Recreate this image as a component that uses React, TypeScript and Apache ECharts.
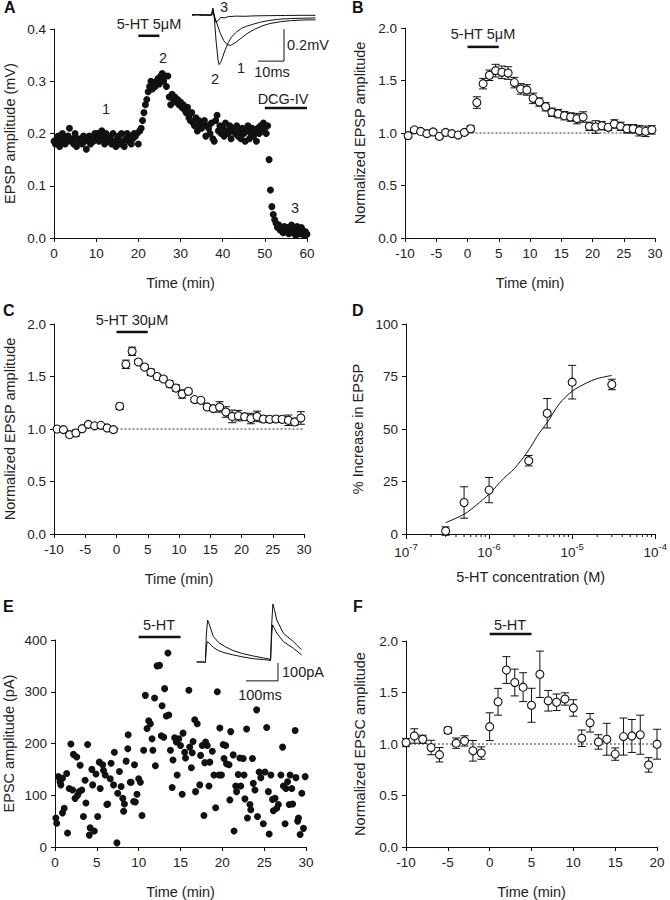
import React, { useEffect, useRef } from 'react';
import * as echarts from 'echarts';

const FONT = '"Liberation Sans", Arial, Helvetica, sans-serif';
const INK = '#111';
const TEXT = '#222';

// ---------- Panel A ----------
const A_STEP_MIN = 1 / 3;
const A_VALUES = [
  0.185, 0.18, 0.19, 0.195, 0.175, 0.185, 0.2, 0.19, 0.18, 0.185,
  0.195, 0.21, 0.185, 0.19, 0.18, 0.2, 0.175, 0.19, 0.185, 0.19,
  0.18, 0.195, 0.185, 0.17, 0.19, 0.195, 0.18, 0.19, 0.185, 0.2,
  0.19, 0.2, 0.185, 0.195, 0.205, 0.19, 0.18, 0.2, 0.195, 0.185,
  0.19, 0.18, 0.2, 0.185, 0.175, 0.19, 0.195, 0.18, 0.2, 0.185,
  0.175, 0.19, 0.2, 0.185, 0.195, 0.18, 0.19, 0.2, 0.195, 0.2,
  0.18, 0.205, 0.21, 0.225, 0.24, 0.255, 0.265, 0.28, 0.29, 0.3,
  0.285, 0.295, 0.29, 0.3, 0.305, 0.295, 0.31, 0.315, 0.3, 0.31,
  0.29, 0.31, 0.27, 0.255, 0.275, 0.265, 0.27, 0.26, 0.265, 0.255,
  0.26, 0.25, 0.255, 0.245, 0.24, 0.25, 0.23, 0.225, 0.24, 0.22,
  0.215, 0.23, 0.205, 0.225, 0.215, 0.21, 0.22, 0.225, 0.195, 0.215,
  0.21, 0.2, 0.22, 0.19, 0.185, 0.225, 0.235, 0.205, 0.215, 0.2,
  0.21, 0.195, 0.22, 0.205, 0.2, 0.215, 0.19, 0.205, 0.21, 0.2,
  0.215, 0.195, 0.205, 0.19, 0.21, 0.2, 0.185, 0.205, 0.215, 0.19,
  0.2, 0.21, 0.195, 0.205, 0.185, 0.21, 0.2, 0.215, 0.205, 0.22,
  0.21, 0.2, 0.215, 0.15, 0.092, 0.06, 0.045, 0.035, 0.028, 0.02,
  0.025, 0.015, 0.018, 0.01, 0.022, 0.012, 0.02, 0.008, 0.015, 0.025,
  0.01, 0.018, 0.005, 0.022, 0.012, 0.008, 0.02, 0.015, 0.005, 0.012, 0.007,
];
const A_5HT_RANGE = [20, 25];
const A_DCG_RANGE = [50, 60];
// inset traces (ms, mV)
const A_TRACE_1 = [[0, 0], [3, 0.002], [6, -0.002], [7.6, 0], [8.0, 0.04], [8.5, 0], [9.5, -0.05], [10.8, -0.11], [12.2, -0.16], [13.5, -0.185], [14.8, -0.19], [16.5, -0.175], [18.5, -0.15], [21, -0.118], [24, -0.09], [27, -0.068], [30, -0.053], [34, -0.042], [38, -0.035], [43, -0.031], [47.5, -0.03]];
const A_TRACE_2 = [[0, 0], [3, 0.002], [6, -0.002], [7.6, 0], [8.0, 0.04], [8.5, 0], [9.2, -0.15], [10.0, -0.28], [10.4, -0.31], [11.2, -0.29], [12.7, -0.22], [14, -0.17], [15.3, -0.135], [17.2, -0.105], [19.1, -0.083], [21, -0.07], [23, -0.06], [26, -0.046], [29.3, -0.035], [33, -0.027], [38, -0.022], [43, -0.02], [47.5, -0.018]];
const A_TRACE_3 = [[0, 0], [2, 0.003], [3.5, -0.003], [5, 0.002], [7.6, 0], [8.0, 0.04], [8.5, -0.01], [9.2, -0.045], [10, -0.035], [11, -0.015], [12.5, -0.018], [14, -0.01], [17, -0.007], [20, -0.008], [25, -0.005], [30, -0.004], [36, -0.003], [42, -0.002], [47.5, -0.002]];
const A_SCALEBAR = [[25.4, -0.288], [35.4, -0.288], [35.4, -0.088]];

// ---------- Panel B ----------
const B_TIME = [-9.5, -8.5, -7.5, -6.5, -5.5, -4.5, -3.5, -2.5, -1.5, -0.5, 0.5, 1.5, 2.5, 3.5, 4.5, 5.5, 6.5, 7.5, 8.5, 9.5, 10.5, 11.5, 12.5, 13.5, 14.5, 15.5, 16.5, 17.5, 18.5, 19.5, 20.5, 21.5, 22.5, 23.5, 24.5, 25.5, 26.5, 27.5, 28.5, 29.5];
const B_MEAN = [0.975, 1.03, 1.015, 0.994, 1.01, 0.968, 1.006, 0.994, 0.98, 1.006, 1.04, 1.29, 1.47, 1.55, 1.594, 1.578, 1.571, 1.48, 1.42, 1.41, 1.33, 1.295, 1.25, 1.197, 1.184, 1.165, 1.152, 1.137, 1.152, 1.063, 1.057, 1.07, 1.054, 1.086, 1.063, 1.04, 1.04, 1.022, 1.016, 1.03];
const B_SEM = [0.02, 0.02, 0.02, 0.02, 0.02, 0.02, 0.02, 0.02, 0.02, 0.02, 0.03, 0.055, 0.05, 0.05, 0.06, 0.06, 0.06, 0.05, 0.05, 0.05, 0.05, 0.04, 0.04, 0.04, 0.04, 0.04, 0.04, 0.05, 0.05, 0.04, 0.06, 0.04, 0.03, 0.04, 0.04, 0.04, 0.04, 0.05, 0.05, 0.04];
const B_5HT_RANGE = [0, 5];
const B_BASELINE = [[0, 1], [30, 1]];

// ---------- Panel C ----------
const C_TIME = B_TIME;
const C_MEAN = [1.0, 0.994, 0.946, 0.962, 1.003, 1.044, 1.03, 1.035, 1.01, 0.994, 1.216, 1.616, 1.74, 1.638, 1.59, 1.54, 1.5, 1.476, 1.43, 1.39, 1.333, 1.359, 1.28, 1.273, 1.21, 1.194, 1.21, 1.162, 1.12, 1.127, 1.117, 1.1, 1.12, 1.095, 1.092, 1.095, 1.092, 1.083, 1.067, 1.105];
const C_SEM = [0.01, 0.01, 0.02, 0.03, 0.01, 0.01, 0.01, 0.01, 0.01, 0.02, 0.03, 0.04, 0.04, 0.02, 0.02, 0.03, 0.02, 0.02, 0.03, 0.03, 0.04, 0.02, 0.02, 0.02, 0.02, 0.02, 0.05, 0.05, 0.06, 0.05, 0.03, 0.05, 0.05, 0.03, 0.03, 0.02, 0.03, 0.05, 0.03, 0.06];
const C_5HT_RANGE = [0, 5];
const C_BASELINE = [[0, 1], [30, 1]];

// ---------- Panel D ----------
const D_CONC = [3e-7, 5e-7, 1e-6, 3e-6, 5e-6, 1e-5, 3e-5];
const D_MEAN = [1.4, 15, 20.9, 34.9, 57.5, 72.3, 71.2];
const D_SEM = [2, 7.5, 6, 2.5, 7, 8, 2.5];
const D_FIT_CONC = [3e-7, 5e-7, 7e-7, 1e-6, 1.5e-6, 2e-6, 3e-6, 4e-6, 5e-6, 7e-6, 1e-5, 1.5e-5, 2e-5, 3e-5];
const D_FIT_VALUE = [5.4, 9.4, 13.7, 19, 26.5, 31, 40, 48, 53, 62, 68, 72, 74, 75.5];
const D_DECADES = [1e-7, 1e-6, 1e-5];
const D_MINOR_MULT = [2, 3, 4, 5, 6, 7, 8, 9];

// ---------- Panel E ----------
const E_TIME = [0.1, 0.2, 0.4, 0.6, 0.7, 0.9, 0.9, 1.1, 1.4, 1.5, 1.7, 1.9, 2.1, 2.2, 2.4, 2.6, 2.7, 2.9, 3.0, 3.2, 3.4, 3.6, 3.7, 3.9, 4.1, 4.2, 4.4, 4.5, 4.7, 4.9, 5.1, 5.3, 5.4, 5.7, 5.8, 6.0, 6.2, 6.3, 6.6, 6.7, 7.0, 7.1, 7.4, 7.5, 7.7, 7.9, 8.1, 8.2, 8.3, 8.5, 8.7, 8.75, 9.0, 9.1, 9.4, 9.5, 9.6, 9.8, 10.0, 10.2, 10.4, 10.6, 10.8, 11.0, 11.2, 11.4, 11.6, 11.7, 11.9, 12.0, 12.2, 12.5, 12.7, 12.8, 13.0, 13.1, 13.3, 13.5, 13.6, 13.8, 14.0, 14.1, 14.3, 14.5, 14.6, 14.8, 15.0, 15.2, 15.3, 15.5, 15.6, 16.0, 16.1, 16.3, 16.4, 16.5, 16.7, 16.8, 17.0, 17.3, 17.4, 17.6, 17.8, 17.9, 18.0, 18.2, 18.4, 18.5, 18.8, 19.0, 19.2, 19.4, 19.6, 19.7, 19.9, 20.1, 20.2, 20.4, 20.5, 20.8, 20.9, 21.0, 21.3, 21.4, 21.6, 21.7, 21.9, 22.1, 22.2, 22.5, 22.6, 22.7, 22.9, 23.0, 23.3, 23.4, 23.6, 23.7, 23.9, 24.1, 24.2, 24.4, 24.6, 24.9, 25.1, 25.3, 25.5, 25.6, 25.8, 26.0, 26.1, 26.3, 26.5, 26.7, 27.0, 27.2, 27.3, 27.5, 27.6, 27.8, 28.0, 28.1, 28.3, 28.4, 28.7, 28.8, 29.0, 29.1, 29.3, 29.5, 29.7, 29.9];
const E_VALUE = [56, 46, 136, 126, 120, 133, 66, 75, 142, 27, 113, 199, 110, 179, 94, 174, 100, 107, 158, 110, 59, 129, 85, 198, 23, 37, 150, 120, 31, 141, 59, 164, 113, 159, 148, 139, 82, 83, 132, 162, 120, 183, 8, 104, 146, 117, 94, 69, 83, 166, 190, 217, 125, 125, 88, 159, 87, 102, 132, 125, 61, 187, 293, 229, 244, 238, 209, 187, 288, 157, 350, 351, 215, 273, 212, 306, 253, 375, 255, 187, 115, 168, 211, 203, 139, 209, 196, 102, 220, 183, 172, 303, 193, 153, 182, 204, 246, 107, 238, 120, 177, 196, 61, 163, 203, 196, 118, 164, 185, 139, 76, 300, 139, 230, 139, 198, 171, 196, 161, 159, 91, 223, 178, 31, 118, 107, 140, 172, 118, 171, 139, 93, 228, 56, 82, 72, 171, 123, 110, 265, 59, 145, 134, 45, 145, 231, 107, 25, 139, 92, 70, 94, 75, 82, 139, 193, 118, 45, 113, 126, 82, 139, 113, 83, 225, 134, 50, 56, 24, 104, 36, 136];
const E_5HT_RANGE = [10, 15];
// inset traces (ms, pA)
const E_TRACE_BIG = [[21, 0], [44, 0], [46, -6], [48, 0], [51, 150], [55, 233], [60, 210], [73, 141], [90, 107], [110, 85], [135, 63], [165, 46], [198, 33], [230, 22], [248, 17], [250, 10], [252, 17], [255, 200], [259, 322], [264, 290], [271, 233], [292, 159], [323, 113], [349, 67]];
const E_TRACE_SMALL = [[21, 0], [44, 0], [46, -6], [48, 0], [51, 80], [54, 113], [60, 105], [73, 80], [90, 62], [110, 50], [135, 39], [165, 28], [198, 18], [230, 13], [248, 10], [250, 5], [252, 10], [255, 140], [258, 206], [264, 185], [271, 160], [292, 113], [323, 76], [349, 39]];
const E_SCALEBAR = [[175, -105], [275, -105], [275, -5]];

// ---------- Panel F ----------
const F_TIME = [-10, -9, -8, -7, -6, -5, -4, -3, -2, -1, 0, 1, 2, 3, 4, 5, 6, 7, 8, 9, 10, 11, 12, 13, 14, 15, 16, 17, 18, 19, 20];
const F_MEAN = [1.014, 1.078, 1.046, 0.966, 0.896, 1.133, 1.008, 1.03, 0.934, 0.912, 1.168, 1.41, 1.718, 1.597, 1.552, 1.376, 1.677, 1.42, 1.405, 1.437, 1.35, 1.056, 1.206, 1.02, 1.046, 0.902, 1.072, 1.078, 1.09, 0.797, 0.998];
const F_SEM = [0.04, 0.07, 0.04, 0.07, 0.07, 0.03, 0.05, 0.05, 0.1, 0.06, 0.135, 0.13, 0.13, 0.13, 0.14, 0.165, 0.225, 0.1, 0.08, 0.06, 0.08, 0.08, 0.09, 0.07, 0.155, 0.06, 0.18, 0.16, 0.19, 0.07, 0.145];
const F_5HT_RANGE = [0, 5];
const F_BASELINE = [[-10, 1], [20, 1]];

// ---------- helpers ----------
const axisLine = { show: true, onZero: false, lineStyle: { color: INK, width: 1 } };
const axisTick = { show: true, length: 4, lineStyle: { color: INK, width: 1 } };
const labelStyle = { fontFamily: FONT, fontSize: 13.5, fontWeight: 'normal', color: TEXT };
const nameStyle = { fontFamily: FONT, fontSize: 14.5, fontWeight: 'normal', color: TEXT };
const fix1 = (v: number) => v.toFixed(1);

function xAxisCfg(gridIndex: number, extra: any) {
  return {
    type: 'value', gridIndex, name: 'Time (min)', nameLocation: 'middle', nameGap: 37,
    nameTextStyle: nameStyle, axisLine, axisTick,
    axisLabel: { ...labelStyle, margin: 8 }, splitLine: { show: false }, ...extra,
  };
}
function yAxisCfg(gridIndex: number, name: string, nameGap: number, extra: any, fmt?: any) {
  return {
    type: 'value', gridIndex, name, nameLocation: 'middle', nameGap,
    nameTextStyle: nameStyle, axisLine, axisTick,
    axisLabel: { ...labelStyle, margin: 8, ...(fmt ? { formatter: fmt } : {}) },
    splitLine: { show: false }, ...extra,
  };
}
function hiddenAxis(gridIndex: number, min: number, max: number) {
  return { type: 'value', gridIndex, min, max, show: false, splitLine: { show: false } };
}
function errorBars(axisIndex: number, xs: number[], means: number[], sems: number[]) {
  return {
    type: 'custom', xAxisIndex: axisIndex, yAxisIndex: axisIndex, z: 2, silent: true,
    data: xs.map((x, i) => [x, means[i] - sems[i], means[i] + sems[i]]),
    encode: { x: 0, y: [1, 2] },
    renderItem: (_p: any, api: any) => {
      const x = api.value(0);
      const lo = api.coord([x, api.value(1)]);
      const hi = api.coord([x, api.value(2)]);
      const w = 4;
      const st = { stroke: INK, lineWidth: 1 };
      return {
        type: 'group', children: [
          { type: 'line', shape: { x1: lo[0], y1: lo[1], x2: hi[0], y2: hi[1] }, style: st },
          { type: 'line', shape: { x1: hi[0] - w, y1: hi[1], x2: hi[0] + w, y2: hi[1] }, style: st },
          { type: 'line', shape: { x1: lo[0] - w, y1: lo[1], x2: lo[0] + w, y2: lo[1] }, style: st },
        ],
      };
    },
  };
}
function openCircles(axisIndex: number, xs: number[], means: number[]) {
  return {
    type: 'scatter', xAxisIndex: axisIndex, yAxisIndex: axisIndex, z: 3, silent: true,
    symbol: 'circle', symbolSize: 8,
    itemStyle: { color: '#ffffff', borderColor: INK, borderWidth: 1.1, opacity: 1 },
    data: xs.map((x, i) => [x, means[i]]),
  };
}
function filledDots(axisIndex: number, data: number[][]) {
  return {
    type: 'scatter', xAxisIndex: axisIndex, yAxisIndex: axisIndex, symbol: 'circle', symbolSize: 7,
    silent: true, clip: false, itemStyle: { color: INK, opacity: 1 }, data,
  };
}
function hbar(axisIndex: number, range: number[], y: number, width = 2.5) {
  return {
    type: 'line', xAxisIndex: axisIndex, yAxisIndex: axisIndex, clip: false, silent: true,
    symbol: 'none', lineStyle: { color: INK, width }, z: 4,
    data: [[range[0], y], [range[1], y]],
  };
}
function dotted(axisIndex: number, pts: number[][]) {
  return {
    type: 'line', xAxisIndex: axisIndex, yAxisIndex: axisIndex, silent: true, z: 1,
    symbol: 'none', lineStyle: { color: '#333', width: 1, type: [2, 2] }, data: pts,
  };
}
function trace(axisIndex: number, pts: number[][], width = 1) {
  return {
    type: 'line', xAxisIndex: axisIndex, yAxisIndex: axisIndex, silent: true, clip: false,
    symbol: 'none', smooth: false, lineStyle: { color: INK, width }, data: pts,
  };
}
function txt(text: string, x: number, y: number, align = 'center', size = 14.5, weight = 'normal') {
  return {
    type: 'text', x, y, silent: true,
    style: {
      text, fill: weight === 'bold' ? INK : TEXT, font: `${weight} ${size}px ${FONT}`,
      align, textAlign: align, verticalAlign: 'middle', textVerticalAlign: 'middle',
    },
  };
}

export default function App() {
  const ref = useRef<HTMLDivElement>(null);
  useEffect(() => {
    document.body.style.margin = '0';
    const chart = echarts.init(ref.current!, null, { renderer: 'svg' });
    const dMinor: number[][] = [];
    D_DECADES.forEach((d) => D_MINOR_MULT.forEach((m) => dMinor.push([m * d, 0])));

    const option: any = {
      animation: false,
      grid: [
        { left: 54, top: 29, width: 253, height: 209 },   // A
        { left: 405, top: 28, width: 250, height: 210 },  // B
        { left: 54, top: 324, width: 250, height: 210 },  // C
        { left: 406, top: 324, width: 250, height: 210 }, // D
        { left: 54, top: 640, width: 252, height: 209 },  // E
        { left: 406, top: 641, width: 251, height: 208 }, // F
        { left: 192, top: 5, width: 124, height: 63 },    // A inset
        { left: 190, top: 600, width: 120, height: 85 },  // E inset
      ],
      xAxis: [
        xAxisCfg(0, { min: 0, max: 60, interval: 10 }),
        xAxisCfg(1, { min: -10, max: 30, interval: 5 }),
        xAxisCfg(2, { min: -10, max: 30, interval: 5 }),
        {
          type: 'log', gridIndex: 3, logBase: 10, min: 1e-7, max: 1e-4,
          name: '5-HT concentration (M)', nameLocation: 'middle', nameGap: 35,
          nameTextStyle: nameStyle, axisLine, axisTick: { ...axisTick, length: 5 },
          axisLabel: {
            ...labelStyle, margin: 7,
            formatter: (v: number) => '{b|10}{s|' + Math.round(Math.log10(v)) + '}',
            rich: {
              b: { fontFamily: FONT, fontSize: 13.5, color: TEXT, lineHeight: 18, verticalAlign: 'bottom' },
              s: { fontFamily: FONT, fontSize: 9.5, color: TEXT, lineHeight: 18, verticalAlign: 'top' },
            },
          },
          splitLine: { show: false }, minorSplitLine: { show: false },
        },
        xAxisCfg(4, { min: 0, max: 30, interval: 5 }),
        xAxisCfg(5, { min: -10, max: 20, interval: 5 }),
        hiddenAxis(6, 0, 47.7),
        hiddenAxis(7, 0, 375),
      ],
      yAxis: [
        yAxisCfg(0, 'EPSP amplitude (mV)', 37, { min: 0, max: 0.4, interval: 0.1 }, fix1),
        yAxisCfg(1, 'Normalized EPSP amplitude', 38, { min: 0, max: 2, interval: 0.5 }, fix1),
        yAxisCfg(2, 'Normalized EPSP amplitude', 37, { min: 0, max: 2, interval: 0.5 }, fix1),
        yAxisCfg(3, '% Increase in EPSP', 41, { min: 0, max: 100, interval: 25 }),
        yAxisCfg(4, 'EPSC amplitude (pA)', 39, { min: 0, max: 400, interval: 100 }),
        yAxisCfg(5, 'Normalized EPSC amplitude', 39, { min: 0, max: 2, interval: 0.5 }, fix1),
        hiddenAxis(6, -0.331, 0.0625),
        hiddenAxis(7, -128, 344),
      ],
      series: [
        // A
        filledDots(0, A_VALUES.map((v, i) => [i * A_STEP_MIN, v])),
        hbar(0, A_5HT_RANGE, 0.387),
        hbar(0, A_DCG_RANGE, 0.249),
        trace(6, A_TRACE_1), trace(6, A_TRACE_2), trace(6, A_TRACE_3),
        trace(6, A_SCALEBAR),
        // B
        dotted(1, B_BASELINE),
        errorBars(1, B_TIME, B_MEAN, B_SEM),
        openCircles(1, B_TIME, B_MEAN),
        hbar(1, B_5HT_RANGE, 1.82),
        // C
        dotted(2, C_BASELINE),
        errorBars(2, C_TIME, C_MEAN, C_SEM),
        openCircles(2, C_TIME, C_MEAN),
        hbar(2, C_5HT_RANGE, 1.924),
        // D
        {
          type: 'line', xAxisIndex: 3, yAxisIndex: 3, silent: true, symbol: 'none', smooth: 0.3, z: 1,
          lineStyle: { color: INK, width: 1 }, data: D_FIT_CONC.map((c, i) => [c, D_FIT_VALUE[i]]),
        },
        errorBars(3, D_CONC, D_MEAN, D_SEM),
        openCircles(3, D_CONC, D_MEAN),
        {
          type: 'custom', xAxisIndex: 3, yAxisIndex: 3, silent: true, clip: false, data: dMinor,
          encode: { x: 0, y: 1 },
          renderItem: (_p: any, api: any) => {
            const p = api.coord([api.value(0), 0]);
            return { type: 'line', shape: { x1: p[0], y1: p[1], x2: p[0], y2: p[1] + 3 }, style: { stroke: INK, lineWidth: 1 } };
          },
        },
        // E
        filledDots(4, E_TIME.map((t, i) => [t, E_VALUE[i]])),
        hbar(4, E_5HT_RANGE, 405.7),
        trace(7, E_TRACE_BIG), trace(7, E_TRACE_SMALL), trace(7, E_SCALEBAR),
        // F
        dotted(5, F_BASELINE),
        errorBars(5, F_TIME, F_MEAN, F_SEM),
        openCircles(5, F_TIME, F_MEAN),
        hbar(5, F_5HT_RANGE, 2.067),
      ],
      graphic: [
        txt('A', 4, 7, 'left', 16, 'bold'),
        txt('B', 352, 7, 'left', 16, 'bold'),
        txt('C', 3, 310, 'left', 16, 'bold'),
        txt('D', 352, 310, 'left', 16, 'bold'),
        txt('E', 3, 606, 'left', 16, 'bold'),
        txt('F', 353, 606, 'left', 16, 'bold'),
        txt('5-HT 5μM', 149, 24),
        txt('1', 106, 109),
        txt('2', 163, 58),
        txt('3', 295, 208),
        txt('DCG-IV', 283, 99),
        txt('3', 224, 7),
        txt('2', 215, 79),
        txt('1', 241, 68),
        txt('0.2mV', 287, 45, 'left'),
        txt('10ms', 272, 72),
        txt('5-HT 5μM', 483, 34),
        txt('5-HT 30μM', 132, 320),
        txt('5-HT', 159, 625),
        txt('100pA', 282, 672, 'left'),
        txt('100ms', 260, 695),
        txt('5-HT', 510, 625),
      ],
    };
    chart.setOption(option);
    return () => chart.dispose();
  }, []);
  return <div ref={ref} style={{ width: 670, height: 900 }} />;
}
